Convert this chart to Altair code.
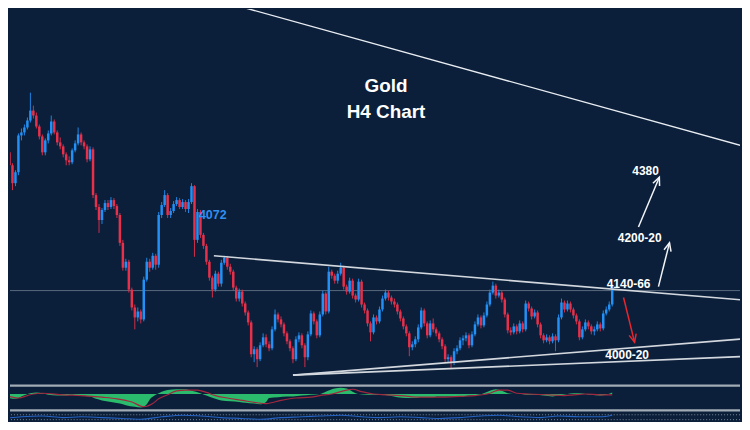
import math
import altair as alt
import pandas as pd

# ---------------- data ----------------
OPEN0 = 4464
CLOSE = [4400, 4426, 4400, 4364, 4386, 4460, 4466, 4476, 4490, 4510,
         4500, 4478, 4458, 4426, 4450, 4464, 4488, 4466, 4446, 4438,
         4422, 4410, 4406, 4430, 4444, 4462, 4446, 4438, 4412, 4432,
         4340, 4316, 4290, 4310, 4324, 4316, 4330, 4318, 4300, 4244,
         4194, 4206, 4150, 4114, 4094, 4106, 4090, 4170, 4206, 4194,
         4218, 4200, 4300, 4320, 4340, 4300, 4308, 4322, 4330, 4316,
         4326, 4312, 4326, 4358, 4250, 4306, 4260, 4238, 4206, 4174,
         4150, 4182, 4162, 4204, 4214, 4196, 4186, 4154, 4132, 4146,
         4122, 4104, 4084, 4020, 4030, 4010, 4038, 4054, 4040, 4032,
         4070, 4100, 4090, 4080, 4062, 4046, 4032, 4010, 4050, 4058,
         4038, 4014, 4060, 4102, 4086, 4058, 4100, 4142, 4106, 4186,
         4178, 4168, 4182, 4194, 4156, 4146, 4168, 4138, 4130, 4166,
         4120, 4108, 4082, 4064, 4094, 4086, 4110, 4132, 4144, 4134,
         4126, 4120, 4106, 4092, 4076, 4062, 4034, 4040, 4050, 4074,
         4108, 4082, 4058, 4082, 4070, 4062, 4050, 4036, 4010, 4014,
         4004, 4026, 4032, 4048, 4052, 4058, 4038, 4060, 4080, 4094,
         4078, 4098, 4120, 4144, 4158, 4138, 4144, 4130, 4100, 4068,
         4064, 4076, 4066, 4082, 4070, 4122, 4112, 4096, 4104, 4080,
         4058, 4048, 4054, 4046, 4056, 4048, 4094, 4124, 4110, 4122,
         4110, 4098, 4086, 4054, 4070, 4084, 4076, 4066, 4070, 4080,
         4072, 4102, 4110, 4120, 4156]
HIGH = [4470, 4430, 4430, 4404, 4390, 4464, 4474, 4482, 4496, 4546,
        4520, 4506, 4482, 4462, 4454, 4470, 4500, 4492, 4470, 4456,
        4442, 4426, 4418, 4434, 4450, 4476, 4466, 4450, 4442, 4438,
        4436, 4344, 4322, 4314, 4330, 4330, 4336, 4334, 4322, 4304,
        4250, 4212, 4210, 4154, 4120, 4114, 4110, 4176, 4214, 4212,
        4224, 4222, 4306, 4326, 4350, 4344, 4314, 4328, 4336, 4334,
        4332, 4330, 4332, 4364, 4360, 4312, 4310, 4264, 4242, 4210,
        4178, 4188, 4186, 4210, 4218, 4218, 4202, 4190, 4158, 4152,
        4150, 4126, 4108, 4088, 4036, 4034, 4044, 4062, 4060, 4046,
        4076, 4110, 4104, 4096, 4084, 4066, 4050, 4036, 4056, 4064,
        4062, 4042, 4066, 4108, 4106, 4090, 4106, 4148, 4146, 4196,
        4190, 4182, 4188, 4204, 4198, 4160, 4174, 4172, 4142, 4172,
        4170, 4124, 4112, 4086, 4100, 4098, 4116, 4138, 4150, 4148,
        4138, 4132, 4124, 4110, 4096, 4080, 4066, 4046, 4056, 4080,
        4114, 4112, 4086, 4088, 4092, 4074, 4066, 4054, 4040, 4020,
        4018, 4032, 4038, 4054, 4058, 4064, 4062, 4066, 4086, 4100,
        4098, 4104, 4126, 4150, 4166, 4162, 4150, 4148, 4134, 4104,
        4074, 4082, 4080, 4088, 4086, 4128, 4126, 4116, 4110, 4108,
        4084, 4062, 4060, 4058, 4062, 4060, 4100, 4132, 4128, 4128,
        4126, 4114, 4102, 4090, 4076, 4090, 4088, 4080, 4076, 4086,
        4084, 4108, 4116, 4126, 4160]
LOW = [4394, 4380, 4394, 4350, 4358, 4380, 4450, 4460, 4472, 4486,
       4494, 4474, 4452, 4420, 4420, 4444, 4460, 4462, 4440, 4432,
       4416, 4400, 4400, 4402, 4426, 4440, 4440, 4432, 4406, 4408,
       4334, 4310, 4264, 4282, 4306, 4310, 4312, 4312, 4294, 4238,
       4188, 4188, 4144, 4108, 4070, 4086, 4082, 4086, 4166, 4186,
       4190, 4190, 4194, 4294, 4316, 4294, 4294, 4304, 4318, 4312,
       4312, 4306, 4304, 4322, 4216, 4244, 4254, 4232, 4200, 4168,
       4134, 4146, 4156, 4156, 4200, 4190, 4180, 4148, 4126, 4126,
       4116, 4098, 4078, 4014, 4004, 3994, 4006, 4034, 4034, 4026,
       4028, 4066, 4084, 4074, 4056, 4040, 4026, 4002, 4006, 4044,
       4032, 3994, 4008, 4056, 4080, 4052, 4054, 4096, 4100, 4102,
       4172, 4162, 4162, 4178, 4150, 4140, 4142, 4132, 4124, 4126,
       4114, 4102, 4076, 4046, 4060, 4080, 4082, 4106, 4128, 4128,
       4120, 4114, 4100, 4086, 4070, 4056, 4016, 4028, 4034, 4044,
       4070, 4076, 4052, 4054, 4064, 4056, 4044, 4030, 4004, 4004,
       3990, 3998, 4020, 4028, 4038, 4046, 4032, 4034, 4056, 4076,
       4072, 4074, 4094, 4116, 4140, 4132, 4134, 4124, 4094, 4062,
       4058, 4060, 4060, 4062, 4064, 4066, 4106, 4090, 4092, 4074,
       4052, 4042, 4044, 4040, 4042, 4026, 4044, 4090, 4104, 4106,
       4104, 4092, 4080, 4048, 4050, 4066, 4070, 4060, 4058, 4066,
       4066, 4068, 4098, 4106, 4116]

LAST_LEVEL = 4148

# trendlines: start (candle index, price) -> end (candle index, price)
TREND_X0 = [72.8, 70.5, 97, 97]
TREND_P0 = [4730, 4218, 3978, 3978]
TREND_X1 = [250, 250, 250, 250]
TREND_P1 = [4435, 4128, 4052, 4016]
TREND_KIND = ["outer", "wedge", "wedge", "wedge"]

# arrows
ARROW_X0 = [207.8, 219.5, 212.8]
ARROW_P0 = [4134, 4156, 4276]
ARROW_X1 = [211.5, 223.2, 219.8]
ARROW_P1 = [4044, 4244, 4376]
ARROW_KIND = ["down", "up", "up"]

TITLE_TEXT = ["Gold", "H4 Chart"]
TITLE_X = [128.2, 128.2]
TITLE_P = [4559, 4507]

LEVEL_TEXT = ["4380", "4200-20", "4140-66", "4000-20"]
LEVEL_X = [215.2, 213.2, 209.5, 209.0]
LEVEL_P = [4389, 4254, 4161, 4018]

PEAK_TEXT = ["4072"]
PEAK_X = [65.5]
PEAK_P = [4300]

HIST_IDX = [0, 2, 4, 6, 9, 11, 13, 15, 18, 20, 23, 25, 29, 31, 33, 36, 39, 41, 44, 46,
            48, 49, 51, 53, 55, 58, 61, 63, 66, 68, 71, 73, 76, 79, 81, 84, 86, 88, 89, 92,
            95, 97, 100, 103, 106, 108, 111, 113, 115, 117, 119, 122, 124, 127, 129, 132,
            135, 138, 140, 143, 146, 148, 151, 154, 156, 159, 161, 163, 165, 167, 169, 171,
            173, 176, 178, 181, 184, 186, 189, 191, 193, 195, 197, 200, 202, 204]
HIST_VAL = [-4, -10, -12, -6, 2, 4, 2, -2, -4, -4, -2, -4, -6, -12, -16, -20, -24, -28, -32, -34,
            -26, -14, -2, 6, 10, 12, 12, 8, 2, -4, -12, -16, -18, -20, -22, -24, -26, -20, -10, -8,
            -6, -6, -4, -2, 0, 6, 14, 16, 14, 6, 0, -2, -2, -2, -4, -8,
            -10, -10, -8, -8, -6, -6, -6, -6, -4, -2, 2, 8, 12, 8, 2, 0,
            0, -2, -2, -4, -6, -4, 0, 2, 2, 0, -2, -4, -2, 4]

SIG_IDX = [0, 3, 5, 8, 10, 13, 20, 26, 33, 38, 43, 47, 50, 52, 55, 58, 61, 65, 68, 71,
           75, 80, 85, 88, 93, 98, 103, 106, 110, 115, 117, 120, 124, 128, 133, 140, 146, 153,
           158, 163, 166, 169, 172, 176, 183, 188, 191, 195, 200, 204]
SIG_VAL = [-2, -8, -10, -4, 0, 2, -2, -4, -8, -12, -20, -32, -24, -12, -2, 8, 10, 10, 4, -4,
           -10, -16, -22, -24, -16, -10, -8, -4, 0, 10, 12, 6, 0, -2, -4, -8, -8, -6,
           -4, 2, 10, 10, 2, 0, -2, -4, -2, 0, -2, -2]

OSC_IDX = [0, 6, 13, 20, 26, 33, 40, 46, 53, 60, 66, 73, 80, 86, 93, 100, 106, 113, 120, 126,
           133, 140, 146, 153, 160, 166, 173, 180, 186, 193, 200, 204]
OSC_VAL = [46, 50, 52, 48, 50, 48, 46, 44, 50, 54, 52, 48, 46, 44, 48, 50, 52, 54, 50, 48,
           50, 48, 46, 48, 52, 54, 50, 48, 52, 50, 50, 54]
OSC_LEVELS = [55, 43]

# ---------------- layout / style ----------------
W = 734
H_MAIN, H_MACD, H_OSC = 377, 28, 9
XMIN, XMAX = 2.1667, 246.8333
PMIN, PMAX = 3960, 4714
BG = "#0b1f3a"
BULL = "#2290f5"
BEAR = "#e8304b"
GREEN = "#2cc46f"
SIGNAL = "#a3283f"
SEP = "#a3abb5"
FONT = "Liberation Sans"

px_per_idx = W / (XMAX - XMIN)
px_per_price = H_MAIN / (PMAX - PMIN)

n = len(CLOSE)
opens = [OPEN0] + CLOSE[:-1]
candles = pd.DataFrame({"idx": list(range(n)), "open": opens, "close": CLOSE,
                        "high": HIGH, "low": LOW})
candles["dir"] = ["up" if c >= o else "down" for o, c in zip(opens, CLOSE)]

trend = pd.DataFrame({"x0": TREND_X0, "p0": TREND_P0, "x1": TREND_X1,
                      "p1": TREND_P1, "kind": TREND_KIND})
arrows = pd.DataFrame({"x0": ARROW_X0, "p0": ARROW_P0, "x1": ARROW_X1,
                       "p1": ARROW_P1, "kind": ARROW_KIND})
arrows["ang"] = [
    (math.degrees(math.atan2((b - a) * px_per_idx, (q - p) * px_per_price)) + 360) % 360
    for a, b, p, q in zip(ARROW_X0, ARROW_X1, ARROW_P0, ARROW_P1)
]

xs = alt.Scale(domain=[XMIN, XMAX], nice=False, zero=False)
ys = alt.Scale(domain=[PMIN, PMAX], nice=False, zero=False)
dir_color = alt.Color("dir:N", scale=alt.Scale(domain=["up", "down"], range=[BULL, BEAR]),
                      legend=None)

level = alt.Chart(pd.DataFrame({"p": [LAST_LEVEL]})).mark_rule(
    color="#5b6a7d", strokeWidth=1).encode(y=alt.Y("p:Q", scale=ys, axis=None))

wicks = alt.Chart(candles).mark_rule(strokeWidth=1, clip=True, opacity=0.9).encode(
    x=alt.X("idx:Q", scale=xs, axis=None),
    y=alt.Y("low:Q", scale=ys, axis=None),
    y2="high:Q",
    color=dir_color,
)
bodies = alt.Chart(candles).mark_rule(strokeWidth=2.5, clip=True, strokeCap="butt").encode(
    x=alt.X("idx:Q", scale=xs, axis=None),
    y=alt.Y("open:Q", scale=ys, axis=None),
    y2="close:Q",
    color=dir_color,
)


def segs(df, kind, color, width):
    return alt.Chart(df).transform_filter(alt.datum.kind == kind).mark_rule(
        clip=True, color=color, strokeWidth=width).encode(
        x=alt.X("x0:Q", scale=xs, axis=None),
        x2="x1:Q",
        y=alt.Y("p0:Q", scale=ys, axis=None),
        y2="p1:Q",
    )


def heads(df, kind, color):
    return alt.Chart(df).transform_filter(alt.datum.kind == kind).mark_point(
        shape="M-0.45,1L0,0L0.45,1", filled=False, size=260, strokeWidth=1.5,
        opacity=1, color=color).encode(
        x=alt.X("x1:Q", scale=xs, axis=None),
        y=alt.Y("p1:Q", scale=ys, axis=None),
        angle=alt.Angle("ang:Q", scale=None),
    )


outer_line = segs(trend, "outer", "#e9edf2", 1.4)
wedge_lines = segs(trend, "wedge", "#d3d8de", 1.6)
red_shaft = segs(arrows, "down", "#e8262e", 1.5)
white_shaft = segs(arrows, "up", "#f2f4f7", 1.5)
red_head = heads(arrows, "down", "#e8262e")
white_head = heads(arrows, "up", "#f2f4f7")

titles = alt.Chart(pd.DataFrame({"t": TITLE_TEXT, "x": TITLE_X, "p": TITLE_P})).mark_text(
    font=FONT, fontSize=19, fontWeight="bold", color="#ffffff", align="center",
    baseline="middle").encode(
    x=alt.X("x:Q", scale=xs, axis=None), y=alt.Y("p:Q", scale=ys, axis=None), text="t:N")

levels = alt.Chart(pd.DataFrame({"t": LEVEL_TEXT, "x": LEVEL_X, "p": LEVEL_P})).mark_text(
    font=FONT, fontSize=12, fontWeight="bold", color="#ffffff", align="center",
    baseline="middle").encode(
    x=alt.X("x:Q", scale=xs, axis=None), y=alt.Y("p:Q", scale=ys, axis=None), text="t:N")

peak = alt.Chart(pd.DataFrame({"t": PEAK_TEXT, "x": PEAK_X, "p": PEAK_P})).mark_text(
    font=FONT, fontSize=12.5, fontWeight="bold", color="#2f8ff0", align="left",
    baseline="middle").encode(
    x=alt.X("x:Q", scale=xs, axis=None), y=alt.Y("p:Q", scale=ys, axis=None), text="t:N")

main = alt.layer(level, wicks, bodies, outer_line, wedge_lines, red_shaft, white_shaft,
                 red_head, white_head, titles, levels, peak).properties(
    width=W, height=H_MAIN)

# ---------------- MACD panel ----------------
ms = alt.Scale(domain=[-45, 25], nice=False, zero=False)
one = pd.DataFrame({"a": [0]})
sep_top = alt.Chart(one).mark_rule(color=SEP, strokeWidth=2.2).encode(
    x=alt.value(0), x2=alt.value(W), y=alt.value(1.6))
sep_bot = alt.Chart(one).mark_rule(color=SEP, strokeWidth=2.2).encode(
    x=alt.value(0), x2=alt.value(W), y=alt.value(26.4))
hist = alt.Chart(pd.DataFrame({"idx": HIST_IDX, "v": HIST_VAL})).mark_area(
    color=GREEN, interpolate="monotone", clip=True, opacity=0.95).encode(
    x=alt.X("idx:Q", scale=xs, axis=None),
    y=alt.Y("v:Q", scale=ms, axis=None),
    y2=alt.datum(0),
)
sig = alt.Chart(pd.DataFrame({"idx": SIG_IDX, "v": SIG_VAL})).mark_line(
    color=SIGNAL, strokeWidth=1.2, interpolate="monotone", clip=True).encode(
    x=alt.X("idx:Q", scale=xs, axis=None),
    y=alt.Y("v:Q", scale=ms, axis=None),
)
macd = alt.layer(hist, sig, sep_top, sep_bot).properties(width=W, height=H_MACD)

# ---------------- bottom oscillator ----------------
osc_s = alt.Scale(domain=[40, 62], nice=False, zero=False)
osc_levels = alt.Chart(pd.DataFrame({"v": OSC_LEVELS})).mark_rule(
    color="#7d8898", strokeWidth=1, strokeDash=[1, 2]).encode(
    y=alt.Y("v:Q", scale=osc_s, axis=None))
osc_line = alt.Chart(pd.DataFrame({"idx": OSC_IDX, "v": OSC_VAL})).mark_line(
    color="#2563c4", strokeWidth=1.1, interpolate="monotone", clip=True).encode(
    x=alt.X("idx:Q", scale=xs, axis=None),
    y=alt.Y("v:Q", scale=osc_s, axis=None),
)
osc = alt.layer(osc_levels, osc_line).properties(width=W, height=H_OSC)

chart = alt.vconcat(main, macd, osc, spacing=0).properties(
    padding=0, background=BG
).configure_view(stroke=None)

chart.save("out.html", embed_options={"renderer": "svg", "actions": False})
